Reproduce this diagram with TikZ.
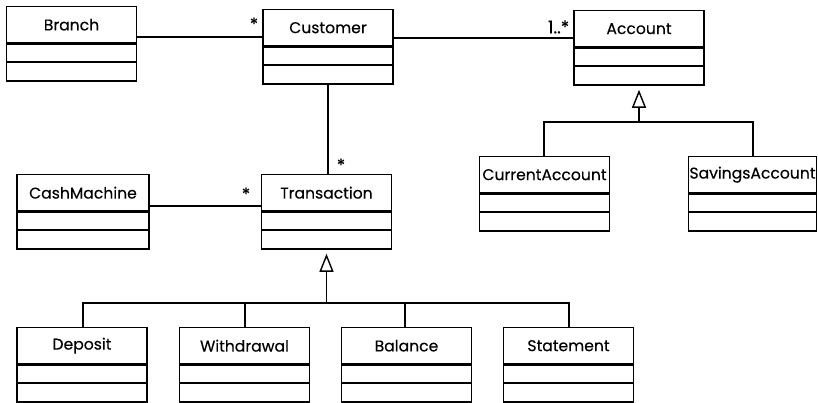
\documentclass[tikz,border=0pt]{standalone}
\usepackage{fontspec}
\setmainfont{Poppins}
\newfontfamily\lbl{Poppins}[FakeBold=0.25]
\usetikzlibrary{arrows.meta,positioning}
\begin{document}
\begin{tikzpicture}[x=1pt,y=-1pt,
  line width=1.4pt,
  every node/.style={font=\lbl\fontsize{15.6}{19}\selectfont},
  head/.style={draw, minimum width=130pt, minimum height=36pt, inner sep=0pt, anchor=north},
  body/.style={draw, minimum width=130pt, minimum height=37pt, inner sep=0pt, anchor=north,
    path picture={\draw[line width=1.4pt] ([yshift=-18pt]path picture bounding box.north west) -- ([yshift=-18pt]path picture bounding box.north east);}},
  mult/.style={inner sep=0pt, font=\lbl\fontsize{17.5}{21}\selectfont},
  gen/.style={-{Triangle[open, length=18pt, width=14pt, line width=1.4pt]}, shorten >=4pt}
]
\useasboundingbox (0,0) rectangle (818,403);

% top row
\node[head] (branch) at (71.5,6) {Branch};
\node[body, below=0pt of branch] (branchb) {};
\node[head] (cust) at (328,9) {Customer};
\node[body, below=0pt of cust] (custb) {};
\node[head] (acc) at (639,10) {Account};
\node[body, below=0pt of acc] (accb) {};

% account subclasses
\node[head] (cur) at (544.5,156) {CurrentAccount};
\node[body, below=0pt of cur] (curb) {};
\node[head, minimum width=128pt] (sav) at (752.5,156) {SavingsAccount};
\node[body, minimum width=128pt, below=0pt of sav] (savb) {};

% middle row
\node[head, minimum width=132pt] (cash) at (83,174) {CashMachine};
\node[body, minimum width=132pt, below=0pt of cash] (cashb) {};
\node[head] (trans) at (326.5,174) {Transaction};
\node[body, below=0pt of trans] (transb) {};

% transaction subclasses
\node[head] (dep) at (82,327) {Deposit};
\node[body, below=0pt of dep] (depb) {};
\node[head] (wd) at (244.5,327) {Withdrawal};
\node[body, below=0pt of wd] (wdb) {};
\node[head] (bal) at (406.5,327) {Balance};
\node[body, below=0pt of bal] (balb) {};
\node[head] (stm) at (568.5,327) {Statement};
\node[body, below=0pt of stm] (stmb) {};

% associations
\draw (branch.east |- 0,37) -- (cust.west |- 0,37);
\draw (cust.east |- 0,38) -- (acc.west |- 0,38);
\draw (custb.south) -- (trans.north -| custb.south);
\draw (cash.east |- 0,206) -- (trans.west |- 0,206);

% multiplicities
\node[mult] at (254,24) {*};
\node[mult, anchor=east] at (570,27) {1..*};
\node[mult] at (341,165) {*};
\node[mult] at (246,194) {*};

% generalisation: accounts
\coordinate (accj) at (639,122);
\draw (cur.north -| 544,0) |- (accj) -| (sav.north -| 753,0);
\draw[gen] (accj) -- (accb.south);

% generalisation: transactions
\coordinate (trj) at (326.5,303);
\draw (dep.north -| 83,0) |- (trj);
\draw (trj) -| (stm.north -| 569,0);
\draw (wd.north -| 245,0) -- (trj -| 245,0);
\draw (bal.north -| 405,0) -- (trj -| 405,0);
\draw[gen] (trj) -- (transb.south);
\end{tikzpicture}
\end{document}
